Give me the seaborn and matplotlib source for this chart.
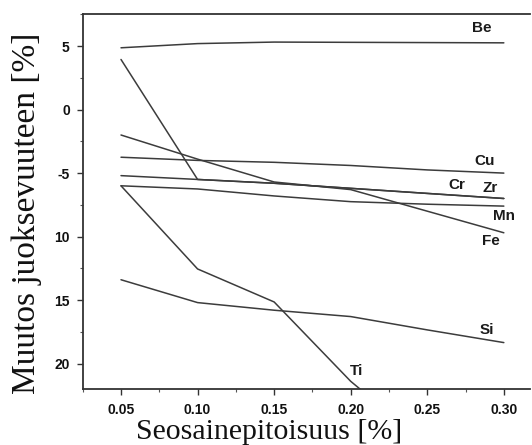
import pandas as pd
import numpy as np
import matplotlib
matplotlib.use("Agg")
import matplotlib.pyplot as plt
from matplotlib.ticker import MultipleLocator
import seaborn as sns

# values (change in fluidity, %)
pitoisuus = [0.05, 0.10, 0.15, 0.20, 0.25, 0.30]
be = [4.87, 5.2, 5.32, 5.3, 5.28, 5.26]
cu = [-3.75, -4.0, -4.15, -4.4, -4.75, -5.0]
cr = [-5.2, -5.5, -5.8, -6.2, -6.6, -7.0]
zr = [3.95, -5.5, -5.8, -6.2, -6.6, -7.0]
mn = [-6.0, -6.25, -6.8, -7.25, -7.45, -7.6]
fe = [-2.0, -3.9, -5.7, -6.3, -8.0, -9.7]
si = [-13.4, -15.2, -15.8, -16.3, -17.35, -18.35]
ti = [-6.0, -12.55, -15.15, -21.4, -26.4]  # runs off the bottom

y_ticks = [5, 0, -5, -10, -15, -20]
y_tick_labels = ["5", "0", "-5", "10", "15", "20"]
x_ticks = [0.05, 0.10, 0.15, 0.20, 0.25, 0.30]

series = {"Be": be, "Cu": cu, "Cr": cr, "Zr": zr, "Mn": mn, "Fe": fe, "Si": si, "Ti": ti}
rows = []
for name, vals in series.items():
    for x, y in zip(pitoisuus, vals):
        rows.append({"alkuaine": name, "pitoisuus": x, "muutos": y})
df = pd.DataFrame(rows)

# where the element names sit
label_pos = {"Be": (0.2855, 6.45), "Cu": (0.2876, -4.05), "Cr": (0.2695, -5.9),
             "Zr": (0.291, -6.2), "Mn": (0.300, -8.4), "Fe": (0.2915, -10.35),
             "Si": (0.289, -17.35), "Ti": (0.2038, -20.55)}

sns.set_style("ticks")
plt.rcParams["font.family"] = ["Liberation Sans", "DejaVu Sans"]

fig = plt.figure(figsize=(5.32, 4.45), dpi=100)
ax = fig.add_axes([0.1555, 0.126, 0.8405, 0.8425])

sns.lineplot(data=df, x="pitoisuus", y="muutos", units="alkuaine", estimator=None,
             color="#3c3c3c", linewidth=1.1, ax=ax, legend=False)

for name, (lx, ly) in label_pos.items():
    ax.text(lx, ly, name, ha="center", va="center", fontsize=11,
            fontweight="bold", color="#1a1a1a")

ax.set_xlim(0.025, 0.317)
ax.set_ylim(-22.0, 7.53)
ax.set_xticks(x_ticks)
ax.set_xticklabels([f"{t:.2f}" for t in x_ticks])
ax.set_yticks(y_ticks)
ax.set_yticklabels(y_tick_labels)
ax.xaxis.set_minor_locator(MultipleLocator(0.025))
ax.yaxis.set_minor_locator(MultipleLocator(2.5))
ax.tick_params(which="major", direction="out", length=4.3, width=1, colors="#333333",
               labelsize=10, labelcolor="#111111")
ax.tick_params(axis="x", which="major", pad=5.5)
ax.tick_params(axis="y", which="major", pad=5)
ax.tick_params(which="minor", direction="out", length=2.5, width=0.8, colors="#555555")
for lab in ax.get_xticklabels() + ax.get_yticklabels():
    lab.set_fontweight("bold")

ax.spines["right"].set_visible(False)
for s in ["top", "left", "bottom"]:
    ax.spines[s].set_color("#333333")
    ax.spines[s].set_linewidth(1.3)

ax.set_xlabel("")
ax.set_ylabel("")
fig.text(269 / 532, 1 - 439 / 445, "Seosainepitoisuus [%]", family="Liberation Serif",
         fontsize=21.5, ha="center", va="baseline", color="#111111")
fig.text(27 / 532, 1 - 213 / 445, "Muutos juoksevuuteen [%]", family="Liberation Serif",
         fontsize=24, ha="center", va="center", rotation=90, color="#111111")

fig.savefig("out.png", dpi=100)
